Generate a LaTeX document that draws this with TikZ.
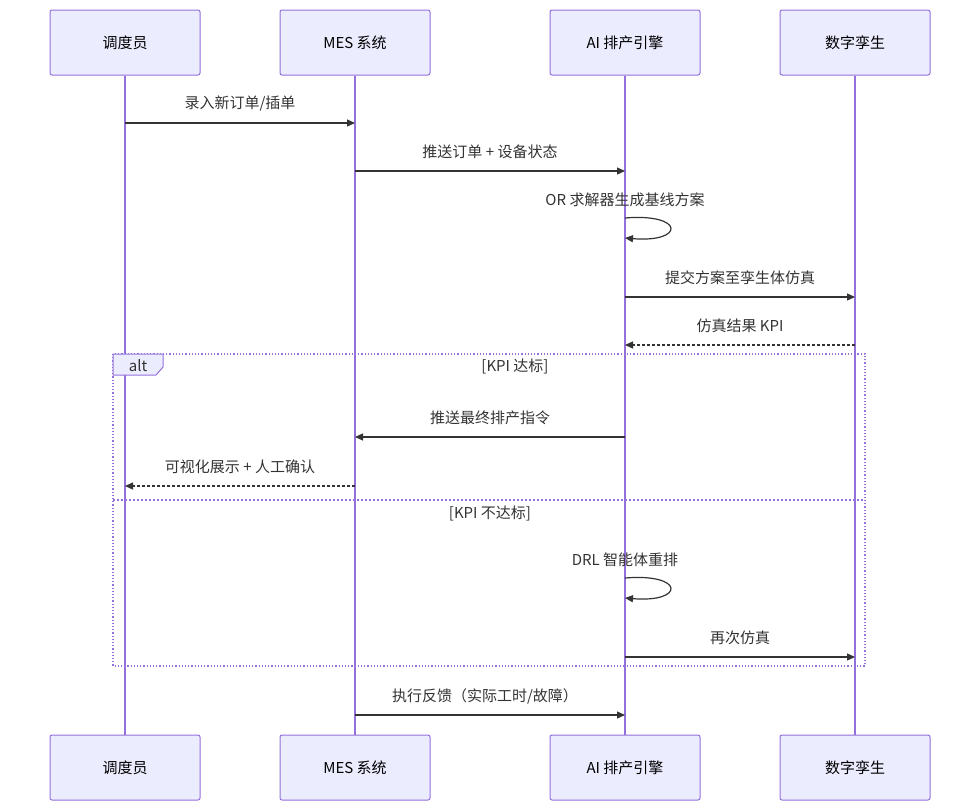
\documentclass[tikz,border=0pt]{standalone}
\usepackage{fontspec}
\setmainfont{Noto Sans CJK SC}
\usetikzlibrary{arrows.meta}
\definecolor{pfill}{HTML}{ECECFF}
\definecolor{pline}{HTML}{9370DB}
\definecolor{ink}{HTML}{333333}
\begin{document}
\begin{tikzpicture}[x=1pt,y=-1pt,
  part/.style={draw=pline,fill=pfill,line width=1pt,minimum width=150pt,minimum height=65pt,rounded corners=2pt,font=\fontsize{15}{17}\selectfont,text=black},
  msg/.style={draw=ink,line width=1.2pt,-{Triangle[length=8pt,width=7pt]}},
  rep/.style={msg,dash pattern=on 3pt off 2pt},
  lbl/.style={font=\fontsize{15}{17}\selectfont,text=ink},
  life/.style={draw=pline,line width=1.4pt}]
\useasboundingbox (0,0) rectangle (980,811);
\foreach \n/\x/\t in {a/125/调度员,b/355/MES 系统,c/625/AI 排产引擎,d/855/数字孪生}{
  \node[part] (\n t) at (\x,42.5) {\t};
  \node[part] (\n b) at (\x,767.5) {\t};
  \draw[life] (\n t.south) -- (\n b.north);
}
% alt frame
\draw[pline,line width=1.2pt,dotted] (113,354) rectangle (865,666);
\draw[pline,line width=1.2pt,dash pattern=on 2pt off 2pt] (113,500) -- (865,500);
\filldraw[draw=pline,fill=pfill,line width=1pt] (113,354) -- (163,354) -- (163,367) -- (156,375) -- (113,375) -- cycle;
\node[lbl] (alt) at (138,365.5) {alt};
\node[lbl] (g1) at (515,366) {[KPI 达标]};
\node[lbl] (g2) at (490,513) {[KPI 不达标]};
\foreach \n/\x in {a/125,b/355,c/625,d/855}{
  \foreach \y in {123,171,218,238,297,345,437,486,578,598,657,715}{
    \coordinate (\n\y) at (\x,\y);}}
\draw[msg] (a123) -- (b123); \node[lbl] (m1) at (240,104) {录入新订单/插单};
\draw[msg] (b171) -- (c171); \node[lbl] (m2) at (490,152) {推送订单 + 设备状态};
\draw[msg] (c218) .. controls (685,213) and (685,243) .. (c238);
\node[lbl] (m3) at (625,200) {OR 求解器生成基线方案};
\draw[msg] (c297) -- (d297); \node[lbl] (m4) at (740,278) {提交方案至孪生体仿真};
\draw[rep] (d345) -- (c345); \node[lbl] (m5) at (740,326) {仿真结果 KPI};
\draw[msg] (c437) -- (b437); \node[lbl] (m6) at (490,418) {推送最终排产指令};
\draw[rep] (b486) -- (a486); \node[lbl] (m7) at (240,467) {可视化展示 + 人工确认};
\draw[msg] (c578) .. controls (685,573) and (685,603) .. (c598);
\node[lbl] (m8) at (625,560) {DRL 智能体重排};
\draw[msg] (c657) -- (d657); \node[lbl] (m9) at (740,638) {再次仿真};
\draw[msg] (b715) -- (c715); \node[lbl] (m10) at (485,696) {执行反馈（实际工时/故障）};
\end{tikzpicture}
\end{document}
